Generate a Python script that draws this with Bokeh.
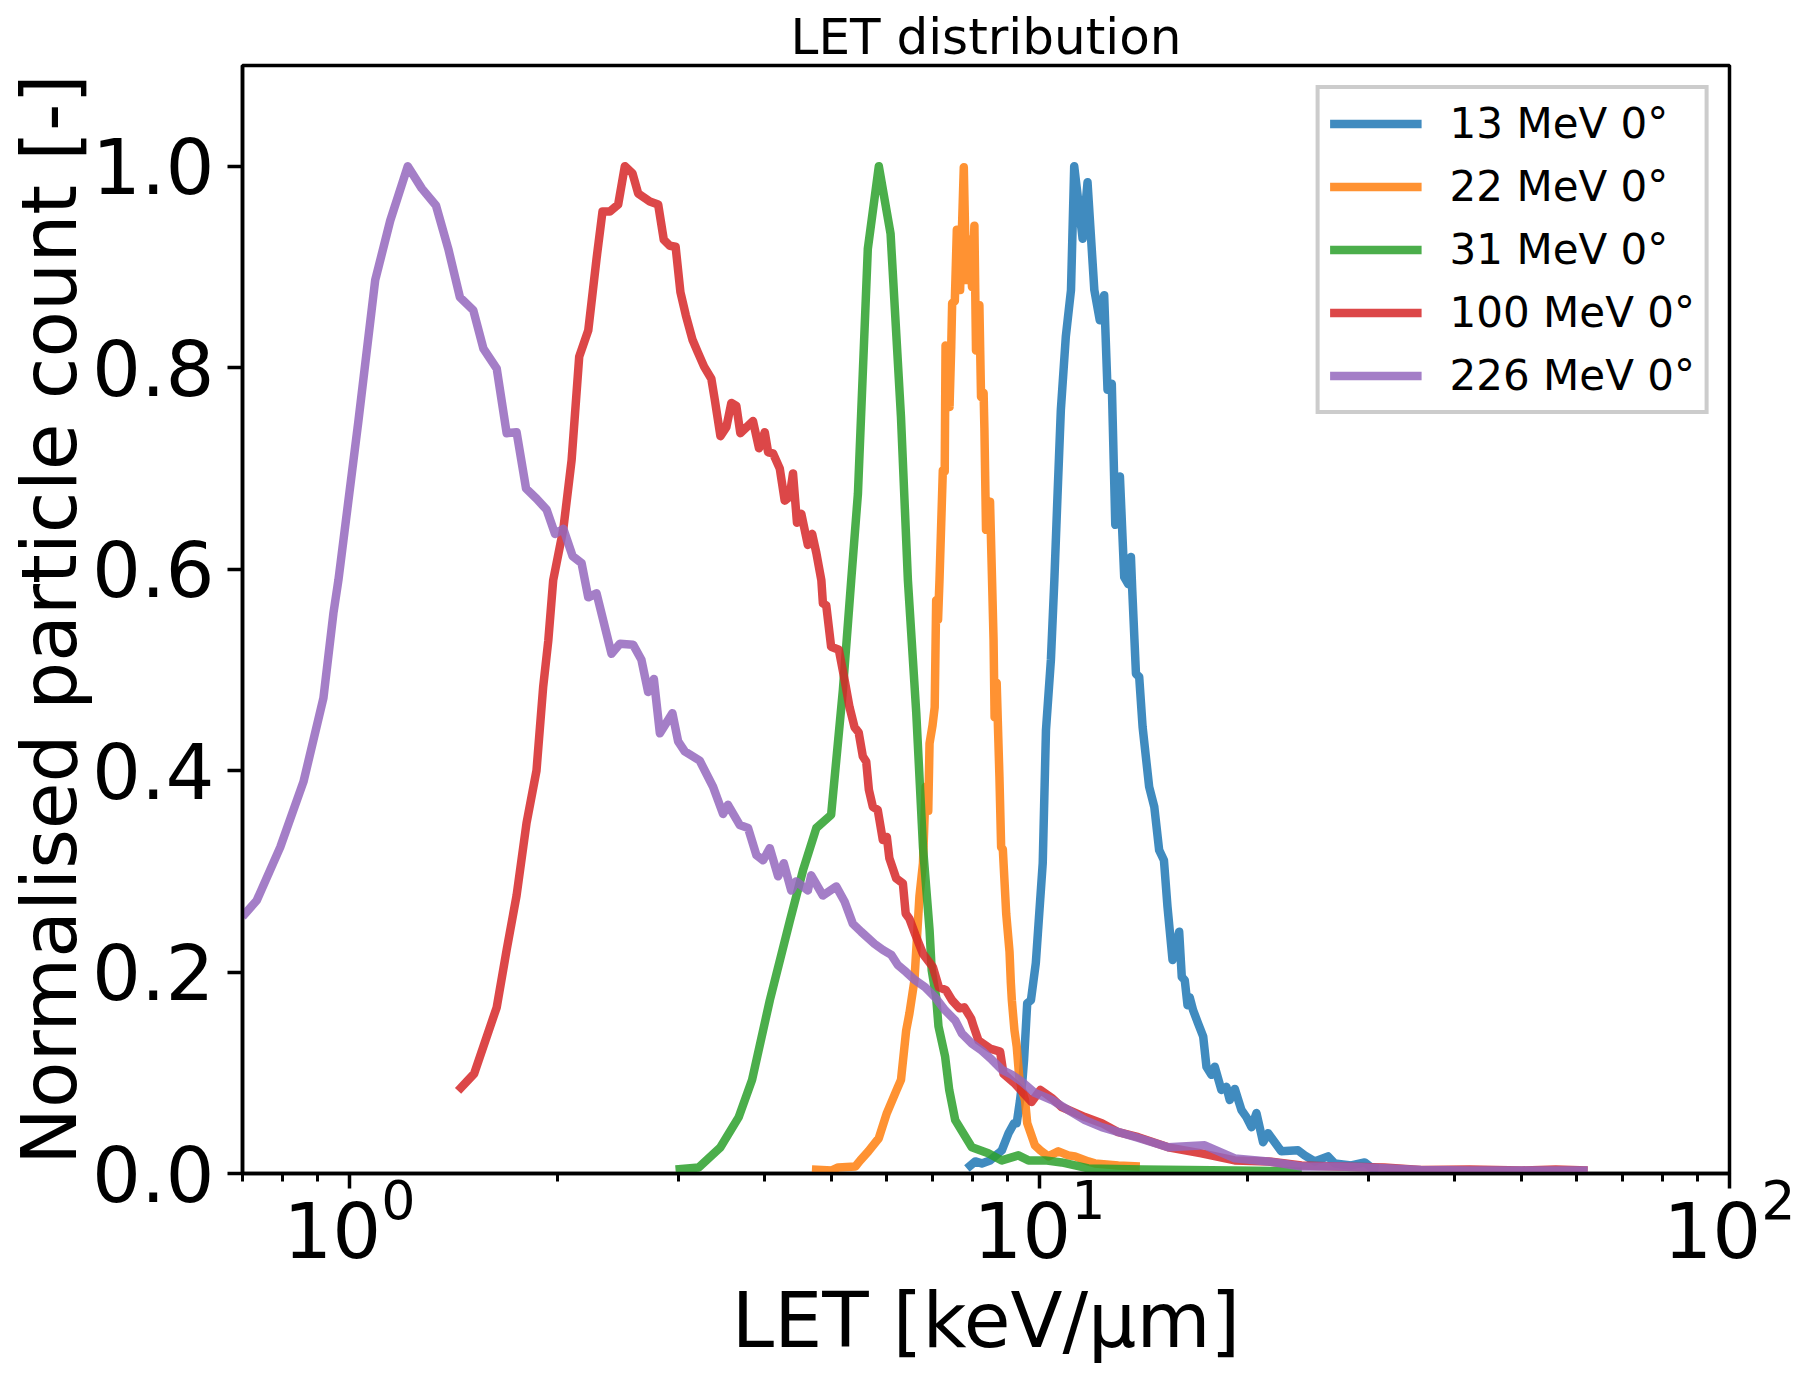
from bokeh.plotting import figure
from bokeh.models import Range1d, FixedTicker, PrintfTickFormatter
from bokeh.embed import file_html
from bokeh.resources import INLINE

# ---------------- data ----------------
labels = ["13 MeV 0°", "22 MeV 0°", "31 MeV 0°", "100 MeV 0°", "226 MeV 0°"]
colors = ["#1f77b4", "#ff7f0e", "#2ca02c", "#d62728", "#9467bd"]

let13_x = [7.85, 8.07, 8.25, 8.48, 8.72, 8.82, 9.02, 9.19, 9.27, 9.37, 9.45, 9.50, 9.60, 9.72,
           9.88, 10.11, 10.22, 10.39, 10.51, 10.62, 10.74, 10.92, 11.11, 11.23, 11.55, 11.74,
           12.01, 12.23, 12.41, 12.55, 12.73, 12.88, 13.08, 13.27, 13.45, 13.57, 13.63, 13.80,
           13.95, 14.11, 14.42, 14.67, 14.91, 15.15, 15.33, 15.59, 15.94, 16.08, 16.24, 16.39,
           16.51, 16.70, 16.98, 17.27, 17.46, 17.75, 17.95, 18.35, 18.66, 18.87, 19.19, 19.62,
           19.95, 20.29, 20.63, 21.09, 21.45, 22.41, 23.70, 24.23, 25.05, 26.19, 26.78, 28.30,
           29.60, 30.25, 31.0]
let13_y = [0.005, 0.012, 0.010, 0.013, 0.020, 0.023, 0.040, 0.050, 0.050, 0.072, 0.093, 0.113,
           0.169, 0.172, 0.209, 0.308, 0.440, 0.510, 0.589, 0.672, 0.758, 0.831, 0.877, 1.000,
           0.928, 0.984, 0.877, 0.847, 0.872, 0.778, 0.784, 0.644, 0.692, 0.592, 0.585, 0.612,
           0.579, 0.496, 0.493, 0.443, 0.384, 0.364, 0.321, 0.311, 0.265, 0.212, 0.240, 0.195,
           0.192, 0.167, 0.175, 0.162, 0.149, 0.136, 0.106, 0.098, 0.106, 0.083, 0.086, 0.073,
           0.084, 0.063, 0.056, 0.046, 0.060, 0.031, 0.040, 0.022, 0.023, 0.018, 0.012, 0.017,
           0.010, 0.008, 0.011, 0.006, 0.005]

let22_x = [4.68, 5.00, 5.11, 5.41, 5.50, 5.65, 5.85, 6.01, 6.21, 6.30, 6.41, 6.48, 6.59, 6.70,
           6.78, 6.84, 6.90, 6.93, 7.00, 7.05, 7.085, 7.13, 7.164, 7.244, 7.29, 7.31, 7.35,
           7.408, 7.45, 7.473, 7.54, 7.591, 7.674, 7.769, 7.829, 7.916, 7.985, 8.049, 8.092,
           8.184, 8.229, 8.30, 8.322, 8.367, 8.48, 8.537, 8.58, 8.61, 8.67, 8.75, 8.80, 8.85,
           8.95, 9.05, 9.09, 9.12, 9.20, 9.27, 9.35, 9.43, 9.53, 9.60, 9.85, 10.03, 10.30,
           10.65, 11.01, 11.26, 11.77, 12.03, 13.01, 13.98]
let22_y = [0.004, 0.003, 0.006, 0.007, 0.013, 0.022, 0.035, 0.060, 0.083, 0.093, 0.142, 0.159,
           0.192, 0.275, 0.308, 0.384, 0.360, 0.427, 0.445, 0.463, 0.569, 0.550, 0.589, 0.698,
           0.697, 0.822, 0.821, 0.761, 0.821, 0.864, 0.866, 0.937, 0.877, 0.999, 0.887, 0.927,
           0.880, 0.941, 0.817, 0.862, 0.771, 0.775, 0.740, 0.639, 0.667, 0.589, 0.530, 0.453,
           0.487, 0.394, 0.324, 0.322, 0.258, 0.220, 0.189, 0.172, 0.142, 0.126, 0.095, 0.083,
           0.073, 0.050, 0.028, 0.023, 0.017, 0.022, 0.018, 0.017, 0.012, 0.010, 0.008, 0.007]

let31_x = [2.969, 3.209, 3.449, 3.666, 3.833, 4.067, 4.345, 4.543, 4.75, 4.99, 5.19, 5.336,
           5.457, 5.64, 5.851, 6.085, 6.30, 6.447, 6.63, 6.78, 6.93, 6.98, 7.085, 7.14, 7.30,
           7.40, 7.55, 7.98, 8.43, 8.82, 9.32, 9.64, 10.19, 10.77, 11.26, 11.77, 14.05, 19.19,
           24.0]
let31_y = [0.004, 0.006, 0.026, 0.056, 0.093, 0.172, 0.250, 0.301, 0.343, 0.356, 0.480, 0.589,
           0.675, 0.918, 1.000, 0.933, 0.751, 0.589, 0.457, 0.324, 0.242, 0.202, 0.175, 0.146,
           0.116, 0.083, 0.053, 0.026, 0.020, 0.013, 0.018, 0.013, 0.013, 0.011, 0.008, 0.005,
           0.004, 0.003, 0.002]

let100_x = [1.437, 1.516, 1.635, 1.690, 1.747, 1.806, 1.867, 1.909, 1.942, 1.974, 2.042, 2.099,
            2.153, 2.219, 2.281, 2.327, 2.385, 2.452, 2.507, 2.572, 2.621, 2.725, 2.802, 2.855,
            2.913, 2.97, 3.018, 3.073, 3.141, 3.20, 3.266, 3.346, 3.385, 3.449, 3.518, 3.577,
            3.637, 3.686, 3.845, 3.923, 3.999, 4.044, 4.11, 4.204, 4.274, 4.345, 4.394, 4.453,
            4.517, 4.617, 4.684, 4.75, 4.83, 4.855, 4.91, 4.99, 5.12, 5.22, 5.306, 5.396, 5.47,
            5.547, 5.61, 5.66, 5.736, 5.83, 5.93, 6.01, 6.06, 6.20, 6.34, 6.40, 6.48, 6.61, 6.78,
            7.007, 7.149, 7.32, 7.47, 7.657, 7.78, 7.96, 8.02, 8.16, 8.48, 8.77, 8.87, 9.22, 9.74,
            10.03, 10.42, 10.77, 11.64, 12.31, 13.01, 13.91, 15.37, 17.17, 19.19, 21.45, 23.97,
            26.8, 31.6, 35.7, 42.0, 50.0, 56.0, 62.3]
let100_y = [0.082, 0.099, 0.165, 0.222, 0.276, 0.348, 0.400, 0.483, 0.529, 0.589, 0.640, 0.708,
            0.811, 0.837, 0.908, 0.955, 0.955, 0.962, 1.000, 0.993, 0.973, 0.965, 0.962, 0.927,
            0.921, 0.920, 0.875, 0.852, 0.828, 0.815, 0.801, 0.789, 0.768, 0.732, 0.741, 0.765,
            0.762, 0.735, 0.747, 0.720, 0.736, 0.716, 0.715, 0.700, 0.668, 0.672, 0.695, 0.646,
            0.655, 0.624, 0.635, 0.616, 0.589, 0.566, 0.564, 0.523, 0.520, 0.490, 0.463, 0.443,
            0.438, 0.414, 0.409, 0.381, 0.364, 0.361, 0.331, 0.334, 0.313, 0.293, 0.288, 0.258,
            0.253, 0.237, 0.218, 0.205, 0.185, 0.182, 0.172, 0.164, 0.165, 0.154, 0.147, 0.132,
            0.124, 0.121, 0.099, 0.089, 0.071, 0.083, 0.075, 0.066, 0.056, 0.050, 0.041, 0.036,
            0.026, 0.020, 0.013, 0.012, 0.008, 0.007, 0.006, 0.0034, 0.004, 0.003, 0.004, 0.003]

let226_x = [0.700, 0.734, 0.794, 0.858, 0.917, 0.948, 0.964, 1.031, 1.090, 1.146, 1.215, 1.273,
            1.335, 1.391, 1.446, 1.512, 1.564, 1.635, 1.690, 1.747, 1.803, 1.867, 1.931, 1.986,
            2.042, 2.106, 2.170, 2.219, 2.281, 2.398, 2.466, 2.577, 2.650, 2.710, 2.762, 2.818,
            2.938, 2.995, 3.062, 3.218, 3.365, 3.479, 3.537, 3.678, 3.782, 3.889, 3.977, 4.067,
            4.181, 4.261, 4.368, 4.441, 4.617, 4.669, 4.855, 5.075, 5.219, 5.365, 5.516, 5.768,
            5.93, 6.10, 6.234, 6.41, 6.60, 6.83, 7.06, 7.30, 7.55, 7.72, 7.98, 8.25, 8.53, 8.82,
            9.12, 9.43, 9.85, 10.42, 11.01, 11.64, 12.31, 13.8, 15.37, 17.36, 19.19, 21.45, 24.0,
            27.0, 30.0, 35.7, 42.0, 50.0, 56.0, 62.3]
let226_y = [0.255, 0.271, 0.324, 0.389, 0.472, 0.556, 0.589, 0.748, 0.887, 0.946, 1.000, 0.978,
            0.961, 0.918, 0.870, 0.857, 0.819, 0.799, 0.735, 0.736, 0.680, 0.670, 0.659, 0.635,
            0.640, 0.613, 0.606, 0.572, 0.576, 0.516, 0.526, 0.525, 0.510, 0.478, 0.491, 0.437,
            0.457, 0.429, 0.419, 0.410, 0.384, 0.357, 0.366, 0.346, 0.343, 0.316, 0.311, 0.323,
            0.295, 0.308, 0.281, 0.290, 0.281, 0.296, 0.276, 0.285, 0.270, 0.248, 0.240, 0.228,
            0.222, 0.217, 0.207, 0.200, 0.192, 0.185, 0.175, 0.162, 0.152, 0.139, 0.129, 0.122,
            0.113, 0.103, 0.098, 0.091, 0.080, 0.073, 0.063, 0.053, 0.046, 0.036, 0.026, 0.028,
            0.015, 0.012, 0.007, 0.007, 0.006, 0.0034, 0.003, 0.003, 0.003, 0.003]

series_x = [let13_x, let22_x, let31_x, let100_x, let226_x]
series_y = [let13_y, let22_y, let31_y, let100_y, let226_y]

y_ticks = [0.0, 0.2, 0.4, 0.6, 0.8, 1.0]
x_label = "LET [keV/μm]"
y_label = "Normalised particle count [-]"
title_text = "LET distribution"

FONT = "DejaVu Sans"

p = figure(frame_width=1487, frame_height=1108, x_axis_type="log",
           x_range=Range1d(0.7, 100), y_range=Range1d(0, 1.1),
           output_backend="svg", toolbar_location=None,
           min_border_left=242, min_border_right=66, min_border_top=65, min_border_bottom=200,
           title=title_text)

p.title.text_font = FONT
p.title.text_font_size = "50px"
p.title.text_font_style = "normal"
p.title.text_color = "black"
p.title.align = "center"
p.title.standoff = 0

p.outline_line_color = "black"
p.outline_line_width = 3.5
p.outline_line_alpha = 1.0
p.xgrid.visible = False
p.ygrid.visible = False
p.background_fill_color = "white"
p.border_fill_color = "white"

for ax in (p.xaxis[0], p.yaxis[0]):
    ax.axis_line_width = 3.5
    ax.axis_line_color = "black"
    ax.major_tick_in = 0
    ax.major_tick_out = 15
    ax.major_tick_line_width = 3.5
    ax.major_tick_line_color = "black"
    ax.major_label_text_font = FONT
    ax.major_label_text_font_size = "77px"
    ax.major_label_text_color = "black"
    ax.axis_label_text_font = FONT
    ax.axis_label_text_font_size = "76px"
    ax.axis_label_text_font_style = "normal"
    ax.axis_label_text_color = "black"

p.xaxis.axis_label = x_label
p.xaxis.minor_tick_in = 0
p.xaxis.minor_tick_out = 8
p.xaxis.minor_tick_line_width = 3
p.xaxis.minor_tick_line_color = "black"
p.xaxis.major_label_standoff = -12
p.xaxis.axis_label_standoff = 15

p.yaxis.axis_label = y_label
p.yaxis.ticker = FixedTicker(ticks=y_ticks)
p.yaxis.formatter = PrintfTickFormatter(format="%.1f")
p.yaxis.minor_tick_line_color = None
p.yaxis.major_label_standoff = 13
p.yaxis.axis_label_standoff = -5

for xs, ys, c, lab in zip(series_x, series_y, colors, labels):
    p.line(xs, ys, line_color=c, line_width=8.5, line_alpha=0.85, line_join="round",
           legend_label=lab)

lg = p.legend[0]
lg.location = "top_right"
lg.margin = 20
lg.padding = 10
lg.spacing = 14
lg.label_text_font = FONT
lg.label_text_font_size = "42px"
lg.label_text_color = "black"
lg.label_height = 49
lg.glyph_height = 49
lg.glyph_width = 92
lg.label_standoff = 28
lg.border_line_color = "#cccccc"
lg.border_line_width = 4
lg.border_line_alpha = 1.0
lg.background_fill_alpha = 0.8

open("out.html", "w").write(file_html(p, INLINE))
